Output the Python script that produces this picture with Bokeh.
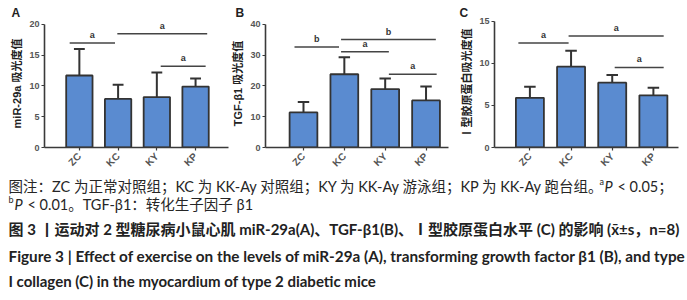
import math
from bokeh.plotting import figure
from bokeh.models import Range1d, FixedTicker, Label
from bokeh.layouts import column, row
from bokeh.embed import file_html
from bokeh.resources import INLINE
from bokeh.core.properties import value

# ---------------- data ----------------
groups = ["ZC", "KC", "KY", "KP"]

mir29a_mean = [11.7, 7.9, 8.2, 9.9]
mir29a_sd = [4.3, 2.3, 4.0, 1.3]

tgfb1_mean = [11.4, 23.8, 19.0, 15.3]
tgfb1_sd = [3.4, 5.5, 3.4, 4.5]

col1_mean = [5.9, 9.6, 7.7, 6.2]
col1_sd = [1.3, 1.9, 0.9, 0.9]

# significance brackets: start, end (in group units), level, mark
mir29a_sig_start = [-0.25, 0.98, 2.10]
mir29a_sig_end = [0.92, 3.30, 3.26]
mir29a_sig_level = [17.0, 18.5, 13.2]
mir29a_sig_mark = ["a", "a", "a"]

tgfb1_sig_start = [-0.22, 0.92, 0.92, 2.09]
tgfb1_sig_end = [0.87, 3.24, 2.09, 3.26]
tgfb1_sig_level = [32.7, 35.1, 31.1, 23.8]
tgfb1_sig_mark = ["b", "b", "a", "a"]

col1_sig_start = [-0.28, 0.94, 2.06]
col1_sig_end = [0.94, 3.25, 3.25]
col1_sig_level = [12.4, 13.25, 9.5]
col1_sig_mark = ["a", "a", "a"]

mir29a_ticks = [0, 5, 10, 15, 20]
tgfb1_ticks = [0, 10, 20, 30, 40]
col1_ticks = [0, 5, 10, 15]

# ---------------- style ----------------
BAR_FILL = "#5a8bd0"
DARK = "#333333"
AXIS = "#3a3a3a"
TICK_FONT = "Liberation Sans"
LABEL_FONT = "Liberation Sans, Noto Sans CJK SC"
CAP_FONT = "Lato, Noto Sans CJK SC"
TOP = 19  # frame top (px)


def make_panel(letter, ylabel, means, sds, s_start, s_end, s_level, s_mark,
               yticks, px_per_unit, x_start, x_end, border_left, border_right,
               letter_left):
    xs = list(range(len(groups)))
    tops = [m + s for m, s in zip(means, sds)]
    y_end = (149 - TOP) / px_per_unit
    p = figure(width=229, height=175,
               x_range=Range1d(x_start, x_end), y_range=Range1d(0, y_end),
               output_backend="svg", toolbar_location=None,
               min_border_left=border_left, min_border_right=border_right,
               min_border_top=TOP, min_border_bottom=26)
    p.outline_line_color = None
    p.grid.visible = False
    p.background_fill_color = "white"
    p.border_fill_color = "white"

    # panel letter as title
    p.title.text = letter
    p.title.align = "left"
    p.title.offset = letter_left - border_left
    p.title.standoff = 0
    p.title.text_font = TICK_FONT
    p.title.text_font_size = "12px"
    p.title.text_font_style = "bold"
    p.title.text_color = "#222222"

    # error bars (upper only)
    p.segment(x0=xs, y0=means, x1=xs, y1=tops, line_color=DARK, line_width=2)
    p.segment(x0=[x - 0.14 for x in xs], y0=tops, x1=[x + 0.14 for x in xs], y1=tops,
              line_color=DARK, line_width=2)
    # bars
    p.vbar(x=xs, top=means, bottom=0, width=0.68, fill_color=BAR_FILL,
           line_color=DARK, line_width=1.8)

    # significance brackets
    p.segment(x0=s_start, y0=s_level, x1=s_end, y1=s_level, line_color="#444444", line_width=1.5)
    mids = [(a + b) / 2 for a, b in zip(s_start, s_end)]
    p.text(x=mids, y=s_level, text=s_mark, text_align="center", text_baseline="bottom",
           y_offset=-3, text_font=value(TICK_FONT), text_font_style="bold",
           text_font_size="9px", text_color="#333333")

    # axes
    for ax in (p.xaxis[0], p.yaxis[0]):
        ax.axis_line_color = AXIS
        ax.axis_line_width = 1.6
        ax.major_tick_line_color = AXIS
        ax.major_tick_line_width = 1.2
        ax.major_tick_in = 0
        ax.major_tick_out = 3
        ax.minor_tick_line_color = None
        ax.major_label_text_font = TICK_FONT
        ax.major_label_text_font_style = "bold"
        ax.major_label_text_font_size = "9px"
        ax.major_label_text_color = "#555555"
        ax.major_label_standoff = 2

    p.xaxis.ticker = FixedTicker(ticks=xs)
    p.xaxis.major_label_overrides = {x: g for x, g in zip(xs, groups)}
    p.xaxis.major_label_orientation = math.pi / 4
    p.xaxis.major_label_text_font_size = "10px"
    p.xaxis.major_label_standoff = 4

    p.yaxis.ticker = FixedTicker(ticks=yticks)
    p.yaxis.bounds = (yticks[0], yticks[-1])
    p.yaxis.axis_label = ylabel
    p.yaxis.axis_label_text_font = LABEL_FONT
    p.yaxis.axis_label_text_font_style = "bold"
    p.yaxis.axis_label_text_font_size = "11px"
    p.yaxis.axis_label_text_color = "#222222"
    p.yaxis.axis_label_standoff = 3
    return p


pA = make_panel("A", "miR-29a 吸光度值", mir29a_mean, mir29a_sd,
                mir29a_sig_start, mir29a_sig_end, mir29a_sig_level, mir29a_sig_mark,
                mir29a_ticks, 6.25, -0.90, 3.85, 44, 1, 11)
pB = make_panel("B", "TGF-β1 吸光度值", tgfb1_mean, tgfb1_sd,
                tgfb1_sig_start, tgfb1_sig_end, tgfb1_sig_level, tgfb1_sig_mark,
                tgfb1_ticks, 3.125, -0.93, 3.55, 35, 10, 5)
pC = make_panel("C", "Ⅰ型胶原蛋白吸光度值", col1_mean, col1_sd,
                col1_sig_start, col1_sig_end, col1_sig_level, col1_sig_mark,
                col1_ticks, 8.553, -0.86, 3.61, 36, 9, 1)

# ---------------- caption ----------------
cap = figure(width=687, height=125, x_range=Range1d(0, 687), y_range=Range1d(0, 125),
             output_backend="svg", toolbar_location=None,
             x_axis_location=None, y_axis_location=None, min_border=0)
cap.outline_line_color = None
cap.grid.visible = False


def cap_label(x, y, text, size="14.5px", style="normal", color="#262626"):
    cap.add_layout(Label(x=x, y=y, text=text, text_font=CAP_FONT, text_font_size=size,
                         text_font_style=style, text_color=color,
                         text_align="left", text_baseline="middle"))


line1 = "图注：ZC 为正常对照组；KC 为 KK-Ay 对照组；KY 为 KK-Ay 游泳组；KP 为 KK-Ay 跑台组。"
cap_label(8, 114, line1)
cap_label(599, 119, "a", size="9px")
cap_label(604, 114, "P", style="italic")
cap_label(617, 114, "< 0.05；")

cap_label(8, 101, "b", size="9px")
cap_label(14, 96, "P", style="italic")
cap_label(27, 96, "< 0.01。TGF-β1：转化生子因子 β1")

line3 = "图 3 丨运动对 2 型糖尿病小鼠心肌 miR-29a(A)、TGF-β1(B)、Ⅰ型胶原蛋白水平 (C) 的影响 (x̄±s，n=8)"
cap_label(8, 72, line3, size="15px", style="bold", color="#222222")
line4 = "Figure 3  |  Effect of exercise on the levels of miR-29a (A), transforming growth factor β1 (B), and type"
cap_label(8, 45, line4, size="15.3px", style="bold", color="#222222")
line5 = "I collagen (C) in the myocardium of type 2 diabetic mice"
cap_label(8, 20, line5, size="15px", style="bold", color="#222222")

layout = column(row(pA, pB, pC), cap)

with open("out.html", "w") as f:
    f.write(file_html(layout, INLINE))
